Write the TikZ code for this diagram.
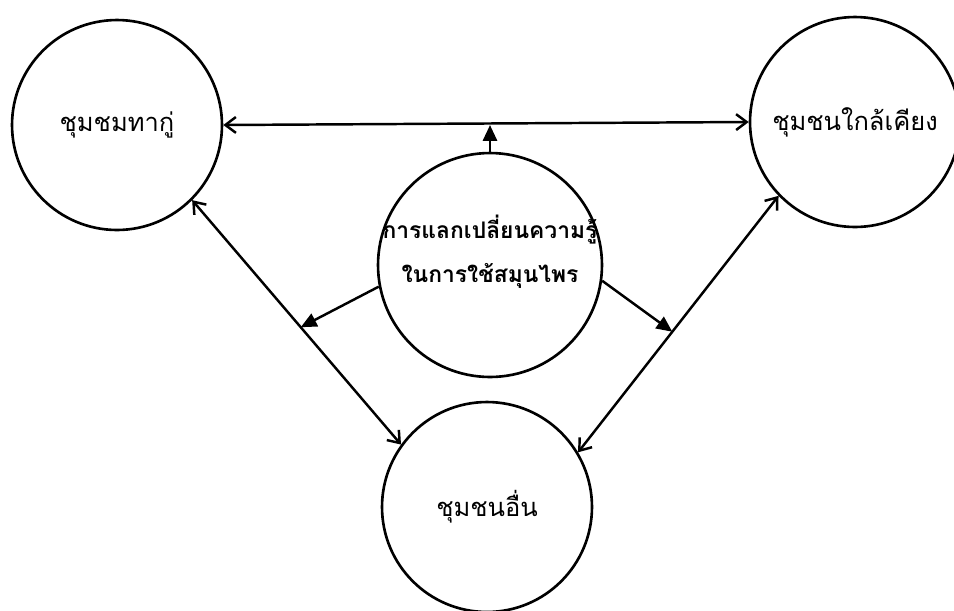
\documentclass[tikz,border=0pt]{standalone}
\usepackage{fontspec}
\newfontfamily\thaifont[Script=Thai]{Loma}
\usetikzlibrary{arrows.meta,calc}

\tikzset{
  group/.style={circle, draw, line width=1.5pt, minimum size=4.2cm, inner sep=0pt,
    font=\thaifont\fontsize{14.5}{18}\selectfont},
  link/.style={line width=1.4pt, {Straight Barb[length=6pt,width=9pt]}-{Straight Barb[length=6pt,width=9pt]}},
  push/.style={line width=1.4pt, -{Triangle[length=9pt,width=8pt]}}
}

\begin{document}
\begin{tikzpicture}[x=0.02cm, y=-0.02cm]
  \useasboundingbox (0,0) rectangle (954,610);

  \node[group] (home) at (117,125) {ชุมชมทากู่};
  \node[group] (near) at (855,122) {ชุมชนใกล้เคียง};
  \node[group] (other) at (487,507) {ชุมชนอื่น};
  \node[group, minimum size=4.48cm] (share) at (490,265) {};
  \node[font=\thaifont\bfseries\fontsize{13}{25}\selectfont, align=center] (sharetext) at (490,252)
    {การแลกเปลี่ยนความรู้\\ในการใช้สมุนไพร};

  % connectors between the groups
  \draw[link] (home.east) -- (near.west);
  \draw[link] (home.-45) -- (other.144);
  \draw[link] (other.31) -- (near.224);

  % exchange flows out of the middle
  \coordinate (hit1) at ($(home.-45)!0.52!(other.144)$);
  \coordinate (hit2) at ($(other.31)!0.47!(near.224)$);
  \draw[push] (share.north) -- (share.north |- home.east);
  \draw[push] (share.191) -- (hit1);
  \draw[push] (share.-8) -- (hit2);
\end{tikzpicture}
\end{document}
